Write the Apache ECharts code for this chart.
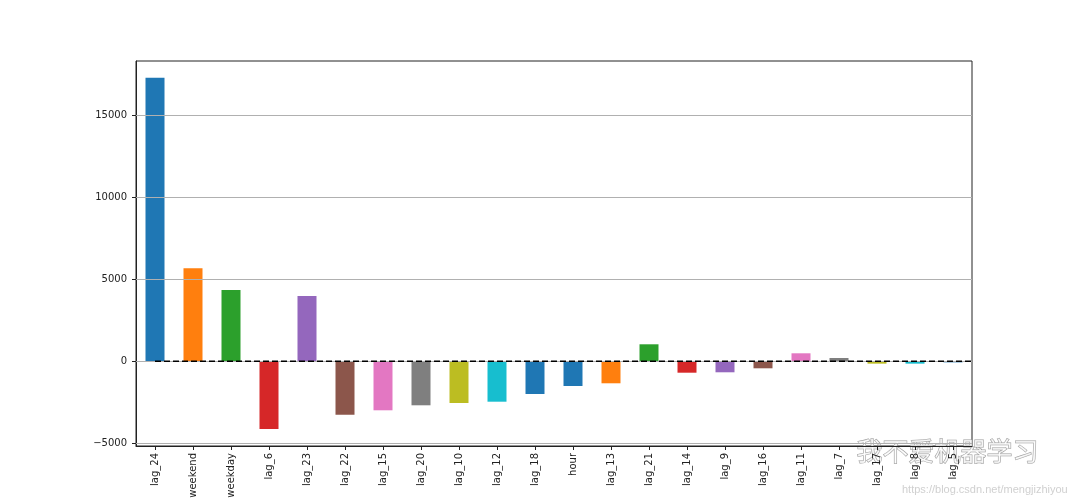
<!DOCTYPE html>
<html>
<head>
<meta charset="utf-8">
<script src="https://cdn.jsdelivr.net/npm/echarts@6/dist/echarts.min.js"></script>
<style>html,body{margin:0;padding:0;background:#fff;}#c{width:1080px;height:502px;}</style>
</head>
<body>
<div id="c"></div>
<script>
const categories = ['lag_24','weekend','weekday','lag_6','lag_23','lag_22','lag_15','lag_20','lag_10','lag_12','lag_18','hour','lag_13','lag_21','lag_14','lag_9','lag_16','lag_11','lag_7','lag_17','lag_8','lag_5'];
const values = [17324, 5677, 4351, -4143, 3984, -3269, -3000, -2695, -2554, -2475, -2004, -1515, -1350, 1033, -703, -678, -434, 483, 196, -150, -150, -70];
const yTicks = [-5000, 0, 5000, 10000, 15000];
const barColors = ['#1f77b4','#ff7f0e','#2ca02c','#d62728','#9467bd','#8c564b','#e377c2','#7f7f7f','#bcbd22','#17becf',
                   '#1f77b4','#1f77b4','#ff7f0e','#2ca02c','#d62728','#9467bd','#8c564b','#e377c2','#7f7f7f','#bcbd22','#17becf','#1f77b4'];

const chart = echarts.init(document.getElementById('c'), null, {renderer:'canvas'});
const font = 'DejaVu Sans';
chart.setOption({
  animation: false,
  backgroundColor: '#fff',
  grid: {left: 136, top: 61, right: 108, bottom: 56, show: true, borderColor: '#222', borderWidth: 1, backgroundColor: 'transparent'},
  xAxis: [{
    type: 'category', data: categories, boundaryGap: true,
    axisLine: {show: true, onZero: false, lineStyle: {color: '#222'}},
    axisTick: {show: true, alignWithLabel: true, length: 4, lineStyle: {color: '#222'}},
    axisLabel: {rotate: 90, interval: 0, color: '#222', fontFamily: font, fontSize: 10, margin: 7},
    splitLine: {show: false}
  }, {
    type: 'value', min: -0.5, max: 21.5, show: false,
    axisLine: {show: false, onZero: false}
  }],
  yAxis: {
    type: 'value', min: -5182, max: 18344,
    axisLine: {show: true, onZero: false, lineStyle: {color: '#222'}},
    axisTick: {show: true, length: 4, customValues: yTicks, lineStyle: {color: '#222'}},
    axisLabel: {customValues: yTicks, color: '#222', fontFamily: font, fontSize: 10, margin: 9,
      formatter: v => (v < 0 ? '\u2212' + (-v) : String(v))},
    splitLine: {show: false}
  },
  series: [{
    type: 'bar', data: values.map((v, i) => ({value: v, itemStyle: {color: barColors[i]}})),
    barWidth: '50%', xAxisIndex: 0,
    markLine: {
      silent: true, symbol: 'none', label: {show: false}, z: 3,
      lineStyle: {color: '#b0b0b0', type: 'solid', width: 1},
      data: yTicks.map(t => ({yAxis: t}))
    }
  }, {
    type: 'line', xAxisIndex: 1, data: [[0, 0], [22, 0]], symbol: 'none', clip: true,
    lineStyle: {color: '#000', type: [6, 3], width: 1.5}, z: 5
  }],
  graphic: [{
    type: 'text', left: 856, top: 438,
    style: {text: '我不爱机器学习', fontSize: 26, fontFamily: 'Noto Sans CJK SC', fill: 'rgba(255,255,255,0.7)', stroke: '#9a9a9a', lineWidth: 1}
  }, {
    type: 'text', left: 902, top: 484,
    style: {text: 'https://blog.csdn.net/mengjizhiyou', fontSize: 11, fontFamily: 'Liberation Sans', fill: '#d0d0d0'}
  }]
});
</script>
</body>
</html>
